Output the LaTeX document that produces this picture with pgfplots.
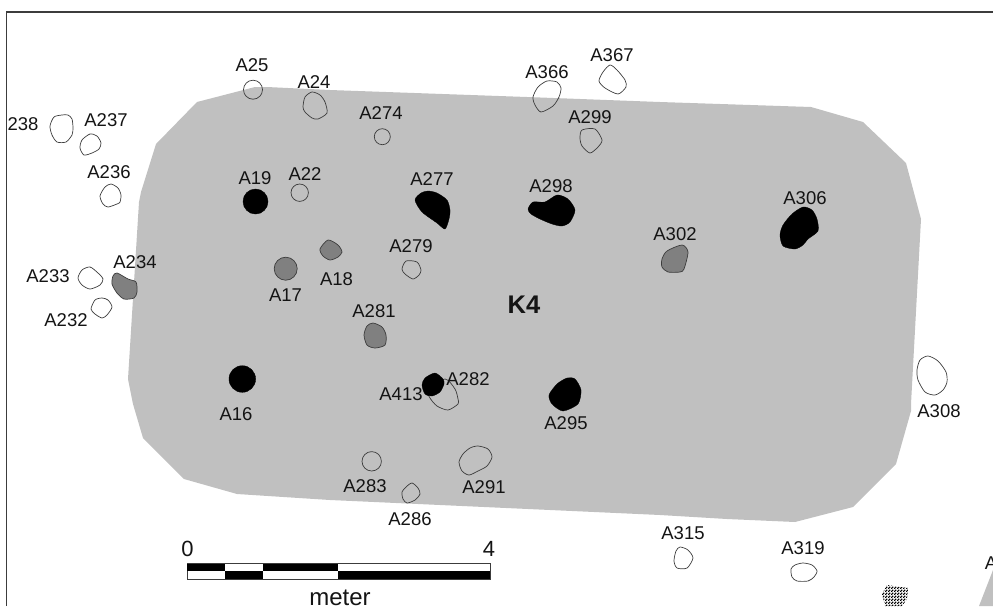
\documentclass[border=0pt]{standalone}
\usepackage{fontspec}
\setmainfont{Liberation Sans}
\usepackage{pgfplots}
\pgfplotsset{compat=1.18}
\usetikzlibrary{patterns}
\definecolor{area}{HTML}{C0C0C0}
\definecolor{pit}{HTML}{808080}
\definecolor{edge}{HTML}{3C3C3C}
\definecolor{ink}{HTML}{141414}
\pgfdeclarepatternformonly{finecheck}{\pgfpointorigin}{\pgfqpoint{3pt}{3pt}}{\pgfqpoint{3pt}{3pt}}{
  \pgfpathrectangle{\pgfpointorigin}{\pgfqpoint{1.9pt}{1.9pt}}
  \pgfpathrectangle{\pgfqpoint{1.5pt}{1.5pt}}{\pgfqpoint{1.5pt}{1.5pt}}
  \pgfusepath{fill}
}
\pgfplotsset{
  hole/.style={draw=edge, line width=0.7pt, fill=none, mark=none, smooth cycle, tension=0.45},
  mid/.style={draw=edge, line width=0.7pt, fill=pit, mark=none, smooth cycle, tension=0.45},
  solid pit/.style={draw=black, line width=0.3pt, fill=black, mark=none, smooth cycle, tension=0.45},
  barfill/.style={draw=none, fill=black, mark=none},
  labels/.style={draw=none, mark=none, point meta=explicit symbolic, nodes near coords,
    every node near coord/.append style={anchor=center, inner sep=0pt, text=ink, font=#1}},
}
\begin{document}
\begin{tikzpicture}
\clip (0,0) rectangle (993pt,606pt);
\begin{axis}[
  at={(0,0)}, anchor=south west,
  scale only axis, width=993pt, height=606pt,
  xmin=0, xmax=993, ymin=0, ymax=606, y dir=reverse,
  hide axis, clip=true,
]
% excavation area
\addplot[draw=none, fill=area, mark=none] coordinates {
  (197,102) (255,87) (267,87) (330,90) (527,97) (660,102) (811,107) (863,122)
  (906,163) (921,219) (911,404) (911,411) (896,464) (853,507) (795,522) (727,519)
  (660,515) (330,500) (237,494) (184,479) (143,438) (133,404) (128,379) (139,202)
  (141,192) (156,144)
} -- cycle;
\addplot[draw=none, fill=area, mark=none] coordinates {(979,606) (993,570) (993,606)} -- cycle;
% frame
\addplot[draw=edge, line width=1.2pt, mark=none] coordinates {(6.5,606) (6.5,12) (993,12)};
% outlines
\addplot[hole] coordinates {(62,115) (68,115) (72,119) (73,128) (72,135) (66,142) (57,142) (52,135) (50,126) (54,117)};
\addplot[hole] coordinates {(90,134) (97,136) (101,143) (99,149) (92,153) (84,155) (80,148) (82,140)};
\addplot[hole] coordinates {(111,184) (118,188) (121,195) (120,202) (117,204) (108,207) (103,204) (100,196) (105,187)};
\addplot[hole] coordinates {(312,92) (320,95) (325,102) (327,113) (318,119) (312,118) (305,112) (303,107) (305,97)};
\addplot[hole] coordinates {(547,81) (557,82) (561,88) (559,97) (553,106) (541,112) (535,105) (533,97) (538,87)};
\addplot[hole] coordinates {(610,65) (617,70) (625,80) (626,87) (618,94) (605,88) (599,81) (603,72)};
\addplot[hole] coordinates {(582,130) (595,129) (602,140) (598,147) (590,153) (582,146) (580,138)};
\addplot[hole] coordinates {(406,261) (417,262) (421,270) (419,275) (413,279) (405,274) (402,269)};
\addplot[hole] coordinates {(90,267) (98,273) (103,279) (100,285) (90,289) (82,285) (78,278) (82,270)};
\addplot[hole] coordinates {(102,298) (108,300) (112,307) (107,315) (102,318) (95,314) (91,309) (95,300)};
\addplot[hole] coordinates {(928,356) (938,361) (946,372) (947,382) (943,390) (935,395) (925,392) (918,380) (917,370) (920,360)};
\addplot[hole] coordinates {(445,379) (455,389) (458,399) (458,404) (448,410) (437,406) (430,398) (428,390)};
\addplot[hole] coordinates {(478,446) (488,449) (492,457) (487,466) (478,471) (469,475) (462,471) (459,462) (463,454) (470,448)};
\addplot[hole] coordinates {(412,483) (418,488) (420,494) (415,500) (407,503) (403,499) (402,492) (406,487)};
\addplot[hole] coordinates {(680,547) (688,550) (693,558) (687,568) (677,568) (674,561) (676,551)};
\addplot[hole] coordinates {(795,565) (803,563) (812,565) (817,571) (814,577) (808,581) (797,581) (792,577) (791,569)};
% round pits
\addplot[only marks, mark=o, mark size=9.5pt, mark options={draw=edge, line width=0.7pt}] coordinates {(253,89.7)};
\addplot[only marks, mark=o, mark size=8.7pt, mark options={draw=edge, line width=0.7pt}] coordinates {(299.7,192.7)};
\addplot[only marks, mark=o, mark size=8pt, mark options={draw=edge, line width=0.7pt}] coordinates {(382.3,136.7)};
\addplot[only marks, mark=o, mark size=9.7pt, mark options={draw=edge, line width=0.7pt}] coordinates {(371.7,461.3)};
\addplot[only marks, mark=*, mark size=12.5pt, mark options={draw=black, fill=black}] coordinates {(255.5,201.5)};
\addplot[only marks, mark=*, mark size=13.3pt, mark options={draw=black, fill=black}] coordinates {(242.3,379)};
\addplot[only marks, mark=*, mark size=11.5pt, mark options={draw=edge, fill=pit, line width=0.7pt}] coordinates {(285.7,268.7)};
% medium grey pits
\addplot[mid] coordinates {(328,240) (338,245) (342,252) (338,257) (330,260) (323,256) (320,249)};
\addplot[mid] coordinates {(117,273) (128,279) (136,282) (137,292) (134,298) (124,299) (117,293) (112,284) (113,276)};
\addplot[mid] coordinates {(373,323) (382,327) (386,335) (385,345) (375,348) (367,345) (364,335) (367,326)};
\addplot[mid] coordinates {(682,245) (688,252) (684,269) (680,272) (668,272) (662,267) (662,259) (667,251)};
% black pits
\addplot[solid pit] coordinates {(415,200) (421,193) (428,191) (437,193) (447,200) (450,210) (449,219) (445,229) (437,223) (422,212)};
\addplot[solid pit] coordinates {(528,209) (533,202) (545,202) (557,195) (568,199) (575,210) (570,222) (562,226) (552,224) (540,219) (531,214)};
\addplot[solid pit] coordinates {(803,207) (812,210) (817,219) (818,231) (808,239) (803,245) (795,249) (783,246) (780,235) (783,225) (792,214)};
\addplot[solid pit] coordinates {(567,378) (575,379) (581,390) (578,404) (563,411) (552,404) (549,395) (557,384)};
\addplot[solid pit] coordinates {(435,373) (443,379) (444,384) (440,392) (432,396) (425,394) (422,385) (425,378)};
% hatched pit
\addplot[draw=none, pattern=finecheck, pattern color=black, mark=none] coordinates {(887,585) (908,588) (907,599) (902,606) (885,606) (882,594)} -- cycle;
% scale bar
\addplot[draw=edge, line width=0.6pt, fill=white, mark=none] coordinates {(187,563.5) (490,563.5) (490,579) (187,579)} -- cycle;
\addplot[barfill] coordinates {(187,563.5) (225,563.5) (225,571) (187,571)} -- cycle;
\addplot[barfill] coordinates {(225,571) (263,571) (263,579) (225,579)} -- cycle;
\addplot[barfill] coordinates {(263,563.5) (338,563.5) (338,571) (263,571)} -- cycle;
\addplot[barfill] coordinates {(338,571) (490,571) (490,579) (338,579)} -- cycle;
% labels
\addplot[labels={\fontsize{18.5}{20}\selectfont}] table[meta=label] {
x y label
252 65 A25
314 82 A24
23 124 238
106 120 A237
109 172 A236
255 178 A19
305 174 A22
381 113 A274
547 72 A366
612 55 A367
590 117 A299
432 179 A277
551 186 A298
805 198.5 A306
675 234 A302
135 262 A234
48 276 A233
66 320 A232
285.5 295 A17
336.5 279 A18
411 246 A279
374 311 A281
468 379 A282
401 394 A413
236 414 A16
566 423 A295
365 486 A283
484 487 A291
410 519 A286
939 411 A308
683 533 A315
803 548 A319
991 563 A
};
\addplot[labels={\bfseries\fontsize{25.5}{27}\selectfont}] table[meta=label] {
x y label
524 304.5 K4
};
\addplot[labels={\fontsize{22}{24}\selectfont}] table[meta=label] {
x y label
187.5 549 0
489 549 4
};
\addplot[labels={\fontsize{24}{26}\selectfont}] table[meta=label] {
x y label
340 597.5 meter
};
\end{axis}
\end{tikzpicture}
\end{document}
